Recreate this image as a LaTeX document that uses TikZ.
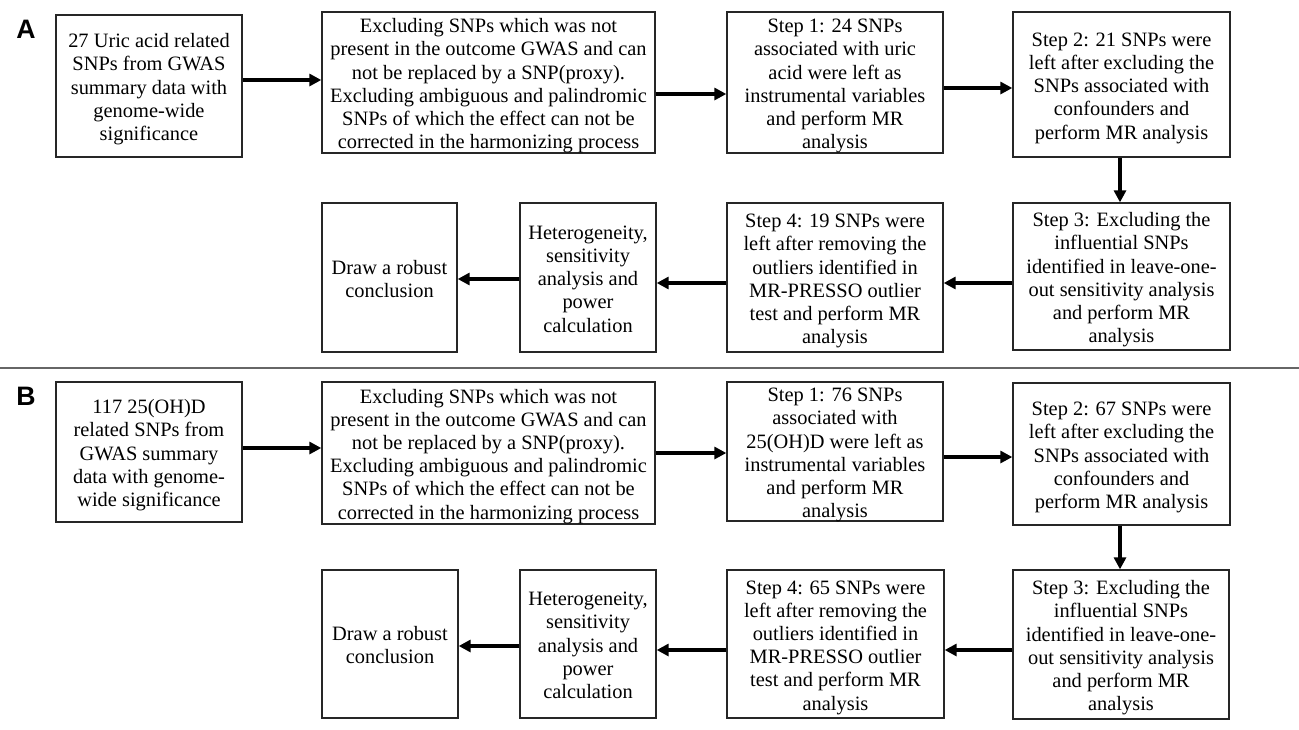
\documentclass[tikz,border=0pt]{standalone}
\usepackage{fontspec}
\setmainfont{Liberation Serif}
\newfontfamily\labfont{Liberation Sans}
\usetikzlibrary{arrows.meta,calc}
\tikzset{
  bx/.style={draw=black!85, line width=1pt, rectangle, inner sep=0pt,
    font=\fontsize{15.3pt}{17.4pt}\selectfont},
  arr/.style={line width=2.6pt, -{Triangle[length=9pt,width=9pt]}},
  lbl/.style={font=\labfont\bfseries\fontsize{20pt}{20pt}\selectfont, inner sep=0pt},
  sepline/.style={draw=black!60, line width=1.1pt}
}
\newcommand{\bx}[6]{\node[bx, minimum width={(#4-#2)*0.75pt}, minimum height={(#5-#3)*0.75pt}] (#1) at ({(#2+#4)/2},{(#3+#5)/2}) {\raisebox{-2.6pt}[\height][\depth]{\begin{tabular}{@{}c@{}}#6\end{tabular}}};}
\begin{document}
\begin{tikzpicture}[x=0.75pt,y=-0.75pt]
\useasboundingbox (0,0) rectangle (1299,729);
% labels and separator
\node[lbl] (la) at (26,29) {A};
\node[lbl] (lb) at (26,396) {B};
\draw[sepline] (0,368) -- (1299,368);
% Panel A
\bx{a1}{56}{15}{242}{157}{27 Uric acid related\\SNPs from GWAS\\summary data with\\genome-wide\\significance}
\bx{a2}{322}{12}{655}{153}{Excluding SNPs which was not\\present in the outcome GWAS and can\\not be replaced by a SNP(proxy).\\Excluding ambiguous and palindromic\\SNPs of which the effect can not be\\corrected in the harmonizing process}
\bx{a3}{727}{12}{943}{153}{Step 1: 24 SNPs\\associated with uric\\acid were left as\\instrumental variables\\and perform MR\\analysis}
\bx{a4}{1013}{12}{1230}{157}{Step 2: 21 SNPs were\\left after excluding the\\SNPs associated with\\confounders and\\perform MR analysis}
\bx{a5}{322}{203}{457}{352}{Draw a robust\\conclusion}
\bx{a6}{520}{203}{656}{352}{Heterogeneity,\\sensitivity\\analysis and\\power\\calculation}
\bx{a7}{727}{203}{943}{352}{Step 4: 19 SNPs were\\left after removing the\\outliers identified in\\MR-PRESSO outlier\\test and perform MR\\analysis}
\bx{a8}{1013}{203}{1230}{350}{Step 3: Excluding the\\influential SNPs\\identified in leave-one-\\out sensitivity analysis\\and perform MR\\analysis}
\draw[arr] (a1.east |- 0,80) -- (a2.west |- 0,80);
\draw[arr] (a2.east |- 0,94) -- (a3.west |- 0,94);
\draw[arr] (a3.east |- 0,88) -- (a4.west |- 0,88);
\draw[arr] (a4.south -| 1120,0) -- (a8.north -| 1120,0);
\draw[arr] (a8.west |- 0,283) -- (a7.east |- 0,283);
\draw[arr] (a7.west |- 0,283) -- (a6.east |- 0,283);
\draw[arr] (a6.west |- 0,279) -- (a5.east |- 0,279);
% Panel B
\bx{b1}{56}{382}{242}{522}{117 25(OH)D\\related SNPs from\\GWAS summary\\data with genome-\\wide significance}
\bx{b2}{322}{382}{655}{524}{Excluding SNPs which was not\\present in the outcome GWAS and can\\not be replaced by a SNP(proxy).\\Excluding ambiguous and palindromic\\SNPs of which the effect can not be\\corrected in the harmonizing process}
\bx{b3}{727}{382}{943}{521}{Step 1: 76 SNPs\\associated with\\25(OH)D were left as\\instrumental variables\\and perform MR\\analysis}
\bx{b4}{1013}{383}{1230}{525}{Step 2: 67 SNPs were\\left after excluding the\\SNPs associated with\\confounders and\\perform MR analysis}
\bx{b5}{322}{570}{458}{718}{Draw a robust\\conclusion}
\bx{b6}{520}{570}{656}{718}{Heterogeneity,\\sensitivity\\analysis and\\power\\calculation}
\bx{b7}{727}{570}{944}{718}{Step 4: 65 SNPs were\\left after removing the\\outliers identified in\\MR-PRESSO outlier\\test and perform MR\\analysis}
\bx{b8}{1013}{570}{1229}{719}{Step 3: Excluding the\\influential SNPs\\identified in leave-one-\\out sensitivity analysis\\and perform MR\\analysis}
\draw[arr] (b1.east |- 0,448) -- (b2.west |- 0,448);
\draw[arr] (b2.east |- 0,453) -- (b3.west |- 0,453);
\draw[arr] (b3.east |- 0,457) -- (b4.west |- 0,457);
\draw[arr] (b4.south -| 1120,0) -- (b8.north -| 1120,0);
\draw[arr] (b8.west |- 0,650) -- (b7.east |- 0,650);
\draw[arr] (b7.west |- 0,650) -- (b6.east |- 0,650);
\draw[arr] (b6.west |- 0,646) -- (b5.east |- 0,646);
\end{tikzpicture}
\end{document}
